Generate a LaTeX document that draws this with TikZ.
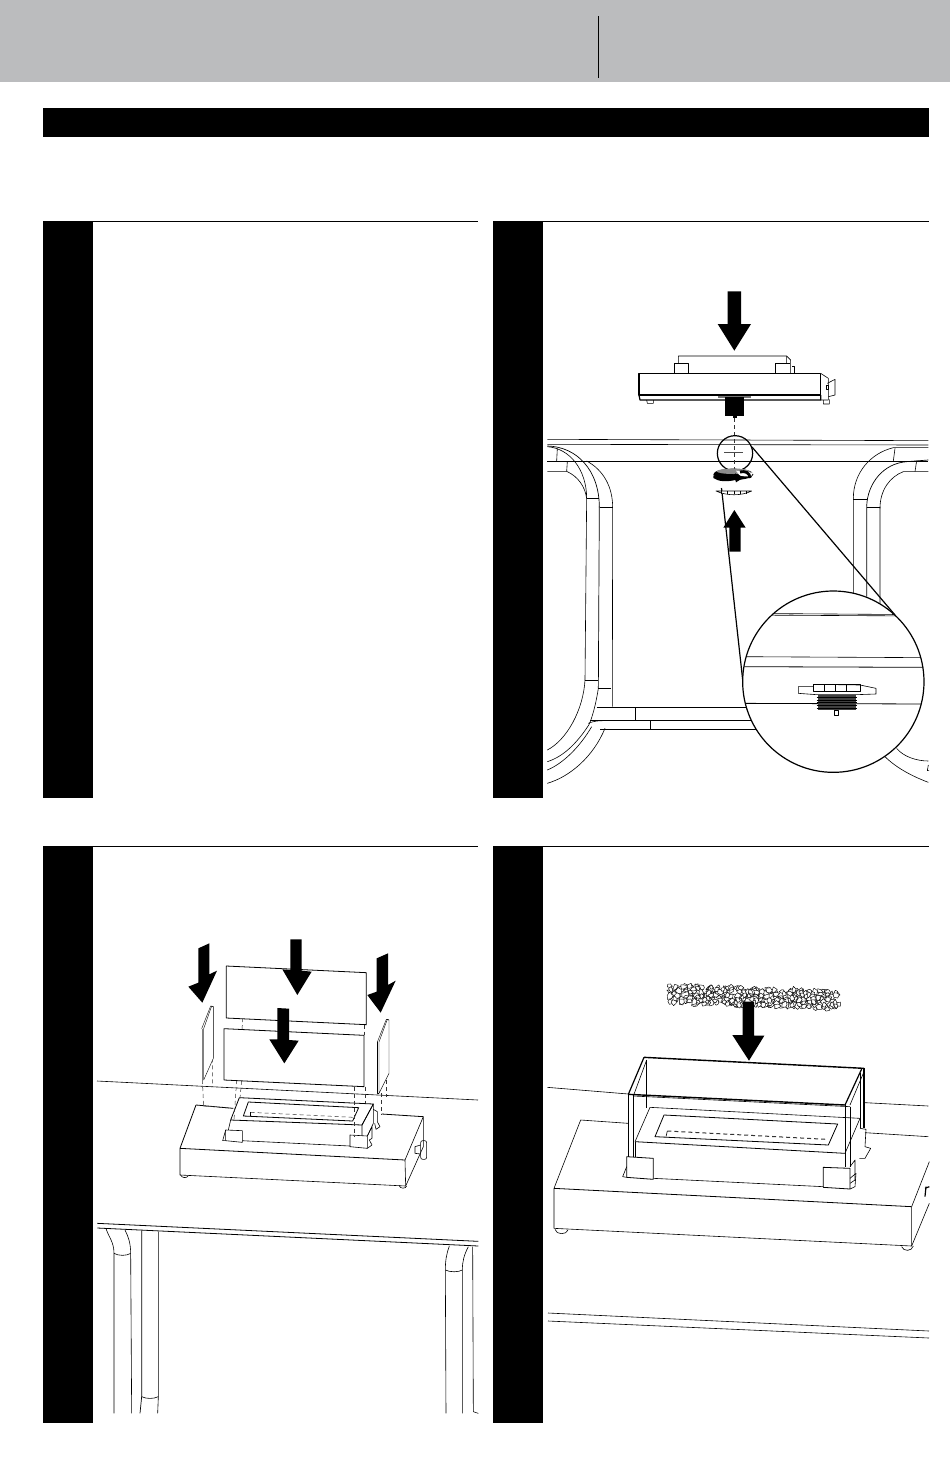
\documentclass[tikz,border=0pt]{standalone}
\usepackage{xcolor}
\usetikzlibrary{calc}
\definecolor{headgray}{HTML}{BBBCBE}
\tikzset{
    lineart/.style={draw=black, line width=0.3pt, line join=round},
    heavyline/.style={draw=black, line width=0.6pt, line join=round},
    dashline/.style={draw=black!80, line width=0.25pt, dash pattern=on 2pt off 1.5pt},
    whitepart/.style={lineart, fill=white},
    toprule/.style={draw=black, line width=0.4pt}
}
\begin{document}
\begin{tikzpicture}[x=0.5pt, y=-0.5pt]
    \useasboundingbox (0,0) rectangle (950,1468);

    % Header
    \fill[headgray] (0,0) rectangle (950,82);
    \draw[line width=0.6pt] (598.5,16) -- (598.5,78);
    \fill[black] (43,108) rectangle (929,137);

    % Panel frames
    \foreach \px/\py/\pr in {43/221/478, 493/221/929, 43/846/478, 493/846/929} {
        \fill[black] (\px,\py) rectangle ++(50,577);
        \draw[toprule] (\px,\py) -- (\pr,\py);
    }

    % Panel two: table seen from above
    \begin{scope}
    \clip (547,400) rectangle (929,798);
    \begin{scope}[shift={(540,280)}, scale=1/3]
        \draw[lineart] (22,478) -- (1165,482);
        \draw[lineart] (22,493) -- (1165,495);
        \draw[lineart] (22,543) -- (1165,543);
        % left tube
        \draw[heavyline, line width=0.35pt] (22,498) .. controls (110,500) and (178,570) .. (178,682);
        \draw[lineart] (22,500) .. controls (90,505) and (140,570) .. (140,655);
        \draw[lineart] (140,543) .. controls (190,570) and (218,620) .. (218,682);
        \draw[lineart] (22,574) -- (80,574) .. controls (115,590) and (135,620) .. (140,655);
        \draw[lineart] (140,655) -- (178,655) (180,682) -- (218,682);
        \draw[lineart] (52,505) -- (50,543) (82,545) -- (80,574);
        % right tube
        \draw[lineart] (1165,503) -- (1060,503) .. controls (990,520) and (940,580) .. (940,655);
        \draw[heavyline, line width=0.35pt] (1165,540) -- (1100,545) .. controls (1030,550) and (982,610) .. (980,680);
        \draw[lineart] (1165,575) -- (1090,575) .. controls (1050,590) and (1020,630) .. (1020,685);
        \draw[lineart] (940,658) -- (980,658) (982,683) -- (1020,683);
        \draw[lineart] (1065,505) -- (1060,543) (1130,542) -- (1125,575);
    \end{scope}
    \begin{scope}[shift={(540,560)}, scale=1/3]
        \draw[lineart] (140,-187) -- (135,360) (218,-160) -- (217,440) (940,-187) -- (940,100) (1020,-160) -- (1020,130);
        \draw[heavyline, line width=0.35pt] (178,-160) -- (175,385) (980,-160) -- (980,110);
        \draw[lineart] (135,360) -- (175,360) (175,385) -- (213,385);
        \draw[lineart] (170,443) -- (640,443);
        \draw[lineart] (150,482) -- (660,482);
        \draw[lineart] (180,507) -- (680,507);
        \draw[lineart] (287,443) -- (287,480) (331,482) -- (331,507);
        \draw[lineart] (135,360) .. controls (130,450) and (80,540) .. (22,570);
        \draw[lineart] (175,385) .. controls (165,450) and (150,490) .. (145,497) .. controls (110,550) and (70,590) .. (22,605);
        \draw[lineart] (155,500) .. controls (120,560) and (70,610) .. (22,630);
        \draw[lineart] (195,505) .. controls (160,590) and (90,650) .. (22,670);
        \draw[lineart] (145,490) .. controls (165,482) and (175,482) .. (200,482);
        \draw[lineart] (1070,565) .. controls (1090,590) and (1130,603) .. (1165,603);
        \draw[lineart] (1035,590) .. controls (1070,625) and (1120,650) .. (1165,667);
        \draw[lineart] (1165,615) -- (1162,632) -- (1170,632);
    \end{scope}
    \end{scope}

    % Panel two: burner and fasteners
    \coordinate (smallright) at (752,447);
    \coordinate (bigright) at (895,615);
    \coordinate (smallleft) at (721.5,488);
    \coordinate (bigleft) at (742.7,680);
    \draw[heavyline] (smallright) -- (bigright);
    \draw[heavyline] (smallleft) -- (bigleft);
    \begin{scope}[shift={(540,280)}, scale=1/3]
        \draw[dashline] (583,415) -- (583,570);
        \fill[black] (563,34) -- (603,34) -- (603,132) -- (633,132) -- (583,212) -- (533,132) -- (563,132) -- cycle;
        \draw[lineart] (415,250) -- (415,228) -- (740,228) -- (752,240) -- (752,280) (740,228) -- (740,250);
        \draw[lineart] (403,280) -- (403,250) -- (445,250) -- (445,280) (707,280) -- (707,250) -- (750,250);
        \draw[lineart] (757,258) -- (763,258) -- (763,280);
        \draw[heavyline] (297,280) rectangle (842,345);
        \draw[heavyline] (297,345) -- (300,360) -- (842,360) -- (842,345);
        \draw[lineart] (842,280) -- (865,295) -- (865,360) -- (842,360);
        \draw[lineart] (862,310) -- (885,298) -- (885,345) -- (865,350);
        \draw[lineart] (858,315) rectangle (865,328);
        \draw[lineart] (320,360) -- (322,370) -- (340,370) -- (340,360) (850,360) -- (850,372) -- (868,372) -- (868,358);
        \fill[black!55] (535,347) rectangle (632,355);
        \fill[black] (556,350) rectangle (612,408);
        \fill[black] (578,408) rectangle (590,415);
        % detail circle and washers
        \draw[heavyline] (585,520) circle (53);
        \draw[line width=0.5pt, black!70] (553,518) -- (608,518);
        \fill[black] (580,583) ellipse (60 and 17);
        \fill[black!45] (580,574) ellipse (50 and 8);
        \fill[white] (588,572) -- (640,578) -- (632,590) -- (600,588) -- cycle;
        \draw[line width=1.4pt] (600,576) .. controls (615,572) and (630,578) .. (630,594);
        \fill[black] (520,586) .. controls (545,598) and (565,598) .. (585,594) -- (585,580) -- (612,592) -- (588,607) -- (586,600) .. controls (560,606) and (535,605) .. (520,594) -- cycle;
        \draw[whitepart] (528,633) .. controls (560,648) and (605,648) .. (635,633) -- cycle;
        \foreach \tx in {545,563,582,600,618} {
            \draw[lineart] (\tx,633) -- (\tx,642);
        }
        \fill[black] (583,690) -- (617,743) -- (602,743) -- (602,815) -- (568,815) -- (568,743) -- (550,743) -- cycle;
    \end{scope}

    % Panel two: enlarged detail
    \begin{scope}[shift={(540,560)}, scale=1/3]
        \draw[whitepart, line width=0.6pt] (880,365) circle (272);
        \begin{scope}
        \clip (880,365) circle (271);
        \draw[lineart] (600,160) -- (1150,164) (600,165) -- (1150,168);
        \draw[lineart] (600,290) -- (1160,293);
        \draw[heavyline, line width=0.4pt] (600,320) -- (1160,322);
        \draw[heavyline, line width=0.4pt] (600,430) -- (1160,432);
        \end{scope}
        \draw[whitepart] (775,380) -- (820,380) -- (820,373) -- (960,375) -- (1008,385) -- (1008,402) -- (950,404) -- (830,404) -- (775,400) -- cycle;
        \draw[heavyline, line width=0.4pt] (820,373) rectangle (960,395);
        \foreach \tx in {853,885,918} {
            \draw[lineart] (\tx,375) -- (\tx,395);
        }
        \fill[black!75] (833,405) rectangle (948,450);
        \foreach \ty in {412,420,428,436,444} {
            \draw[black, line width=0.5pt] (830,\ty) -- (950,\ty);
        }
        \draw[whitepart] (883,450) rectangle (895,467);
    \end{scope}

    % Panel three: table
    \draw[lineart] (97,1081) -- (478,1100);
    \begin{scope}[shift={(90,1200)}, scale=1/3]
        \draw[heavyline, line width=0.4pt] (22,70) -- (1165,124);
        \draw[heavyline, line width=0.4pt] (22,84) -- (1165,138);
        \draw[lineart] (48,85) .. controls (55,110) and (72,125) .. (72,160) -- (72,640);
        \draw[lineart] (105,90) .. controls (115,110) and (122,130) .. (122,160) -- (125,640);
        \draw[lineart] (72,160) .. controls (85,168) and (110,168) .. (122,160);
        \draw[heavyline, line width=0.35pt] (155,92) -- (155,590) -- (150,640);
        \draw[lineart] (205,95) -- (205,590) -- (203,640);
        \draw[lineart] (155,590) .. controls (170,597) and (190,597) .. (205,590);
        \draw[lineart] (1078,138) .. controls (1070,160) and (1066,180) .. (1066,210) -- (1068,640);
        \draw[lineart] (1135,140) .. controls (1122,165) and (1117,185) .. (1117,210) -- (1117,640);
        \draw[lineart] (1066,210) .. controls (1080,217) and (1105,217) .. (1117,210);
        \draw[lineart] (1148,140) -- (1150,635) -- (1165,640);
    \end{scope}

    % Panel three: burner and glass
    \begin{scope}[shift={(160,930)}, scale=1/3]
        \draw[heavyline, line width=0.4pt] (108,525) -- (220,535) (665,552) -- (790,560);
        \draw[heavyline, line width=0.4pt] (108,525) -- (60,655);
        \draw[heavyline, line width=0.4pt] (60,655) -- (735,690);
        \draw[lineart] (60,655) -- (60,735) -- (737,768) -- (735,690) -- (790,560) -- (790,650) -- (737,768);
        \draw[lineart] (62,735) .. controls (65,745) and (82,745) .. (85,737);
        \draw[lineart] (717,766) .. controls (720,777) and (737,777) .. (740,768);
        \draw[lineart, rounded corners=1pt] (782,632) -- (800,632) -- (800,688) -- (782,688) -- cycle;
        \draw[lineart] (765,650) -- (782,645) (765,650) -- (765,670) -- (782,672);
        % tray
        \draw[whitepart, line width=0.4pt] (238,503) -- (640,522) -- (606,585) -- (212,570) -- cycle;
        \draw[whitepart, line width=0.4pt] (265,516) -- (596,533) -- (578,573) -- (250,558) -- cycle;
        \draw[dashline] (272,547) -- (580,562);
        \draw[lineart] (272,547) -- (272,558);
        \draw[lineart] (212,570) -- (205,600) (606,585) -- (606,618);
        \draw[lineart] (606,585) -- (640,522) -- (640,580) -- (622,618);
        \draw[lineart] (245,632) -- (570,648);
        \draw[lineart] (640,538) -- (652,545) -- (652,575) -- (660,590) -- (648,598) -- (644,580);
        \draw[whitepart] (197,600) -- (247,602) -- (247,637) -- (197,632) -- cycle;
        \draw[lineart] (197,600) -- (188,632) -- (197,632);
        \draw[whitepart] (570,615) -- (622,618) -- (622,655) -- (570,650) -- cycle;
        \draw[lineart] (622,618) -- (636,590) -- (636,625) -- (628,630) -- (636,645) -- (622,655);
        % guide lines
        \draw[dashline] (127,450) -- (131,528) (157,385) -- (157,470);
        \draw[dashline] (131,528) -- (218,535);
        \draw[dashline] (247,264) -- (245,450) -- (240,505);
        \draw[dashline] (230,450) -- (222,570);
        \draw[dashline] (612,284) -- (612,316) (584,470) -- (584,620) (615,470) -- (615,520);
        \draw[dashline] (663,490) -- (663,555) (680,430) -- (680,500);
        % glass panels
        \draw[whitepart, line width=0.4pt] (199,108) -- (619,128) -- (619,284) -- (199,264) -- cycle;
        \draw[whitepart, line width=0.4pt] (192,296) -- (612,316) -- (612,470) -- (192,450) -- cycle;
        \draw[whitepart, line width=0.2pt] (131,296) -- (155,228) -- (160,230) -- (160,385) -- (131,450) -- cycle;
        \fill[black!50] (125,296) rectangle (133,450);
        \draw[lineart, line width=0.2pt] (125,296) -- (152,228) -- (160,230);
        \draw[whitepart, line width=0.2pt] (657,336) -- (682,268) -- (687,270) -- (687,430) -- (657,490) -- cycle;
        \draw[lineart, line width=0.25pt] (652,336) -- (652,490) -- (657,490);
        \draw[lineart, line width=0.2pt] (652,336) -- (679,268) -- (687,270);
        % arrows
        \fill[black] (115,55) -- (148,40) -- (148,133) -- (171,122) -- (127,218) -- (85,170) -- (115,158) -- cycle;
        \fill[black] (391,28) -- (425,28) -- (425,122) -- (455,125) -- (412,195) -- (367,118) -- (391,120) -- cycle;
        \fill[black] (650,85) -- (684,70) -- (684,165) -- (707,152) -- (662,248) -- (622,195) -- (650,185) -- cycle;
        \fill[black] (352,234) -- (387,236) -- (387,330) -- (416,332) -- (373,400) -- (328,328) -- (352,328) -- cycle;
    \end{scope}

    % Panel four
    \draw[lineart] (548,1313) -- (929,1331);
    \draw[lineart] (548,1321) -- (929,1338);
    \begin{scope}[shift={(540,970)}, scale=1/3]
        \draw[lineart] (22,352) -- (265,372) (975,398) -- (1165,408);
        \draw[lineart] (975,488) -- (1165,500);
        \draw[lineart] (122,450) -- (265,460);
        \draw[lineart] (122,450) -- (42,655);
        \draw[heavyline, line width=0.4pt] (42,655) -- (1115,710);
        \draw[lineart] (42,655) -- (42,775) -- (1115,828) -- (1115,710) -- (1168,575);
        \draw[lineart] (1115,828) -- (1168,700);
        \draw[heavyline] (1158,650) -- (1155,680) (1155,655) -- (1168,650);
        \draw[lineart] (45,778) .. controls (48,795) and (80,795) .. (84,780);
        \draw[lineart] (1085,830) .. controls (1090,845) and (1115,845) .. (1120,828);
        % tray
        \draw[lineart] (330,412) -- (960,445);
        \draw[heavyline, line width=0.4pt] (285,515) -- (915,550);
        \draw[lineart] (285,515) -- (330,412) (915,550) -- (960,445);
        \draw[heavyline, line width=0.4pt] (372,435) -- (893,462) -- (865,525) -- (345,500) -- cycle;
        \draw[dashline, line width=0.5pt] (382,483) -- (860,508);
        \draw[lineart] (382,483) -- (378,500);
        \draw[lineart] (340,625) -- (850,650);
        \draw[lineart] (285,515) -- (285,560);
        \draw[lineart] (915,550) -- (915,590);
        \draw[lineart] (930,590) -- (945,570) -- (945,630) -- (930,640);
        \draw[lineart] (960,475) -- (978,478) -- (975,530) -- (992,535) -- (975,565) -- (958,565);
        % glass
        \draw[heavyline, line width=0.7pt] (312,262) -- (972,295);
        \draw[heavyline, line width=0.7pt] (265,373) -- (915,405);
        \draw[lineart] (280,378) -- (930,410);
        \draw[heavyline] (265,373) -- (312,262);
        \draw[lineart] (280,378) -- (320,270);
        \draw[heavyline] (915,405) -- (965,297);
        \draw[lineart] (930,405) -- (972,305);
        \draw[heavyline] (265,373) -- (265,560);
        \draw[heavyline] (280,375) -- (280,560);
        \draw[lineart] (915,405) -- (915,590) (930,410) -- (930,590);
        \draw[heavyline] (972,295) -- (972,475);
        \draw[lineart] (960,310) -- (960,475);
        \draw[lineart] (320,270) -- (320,415);
        % brackets
        \draw[whitepart, line width=0.4pt] (260,560) -- (340,565) -- (340,628) -- (260,622) -- cycle;
        \draw[lineart] (260,590) -- (248,620) -- (260,622);
        \draw[whitepart, line width=0.4pt] (850,592) -- (930,595) -- (930,657) -- (850,652) -- cycle;
        \draw[lineart] (930,625) -- (948,610) -- (945,650) -- (930,657);
        % gravel
        \pgfmathsetseed{27}
        \foreach \i in {1,...,420} {
            \pgfmathsetmacro{\gx}{388+rnd*510}
            \pgfmathsetmacro{\gy}{47+(\gx-388)*0.035+rnd*52}
            \pgfmathsetmacro{\ra}{4+rnd*8}
            \pgfmathsetmacro{\rb}{4+rnd*8}
            \pgfmathsetmacro{\rc}{4+rnd*8}
            \pgfmathsetmacro{\rd}{4+rnd*8}
            \pgfmathsetmacro{\re}{4+rnd*8}
            \pgfmathsetmacro{\gt}{rnd*70}
            \draw[whitepart, line width=0.22pt] ({\gx+\ra*cos(\gt)},{\gy+\ra*sin(\gt)}) -- ({\gx+\rb*cos(\gt+72)},{\gy+\rb*sin(\gt+72)}) -- ({\gx+\rc*cos(\gt+144)},{\gy+\rc*sin(\gt+144)}) -- ({\gx+\rd*cos(\gt+216)},{\gy+\rd*sin(\gt+216)}) -- ({\gx+\re*cos(\gt+288)},{\gy+\re*sin(\gt+288)}) -- cycle;
        }
        \fill[black] (608,95) -- (642,95) -- (642,197) -- (673,197) -- (627,272) -- (577,195) -- (608,195) -- cycle;
    \end{scope}
\end{tikzpicture}
\end{document}
